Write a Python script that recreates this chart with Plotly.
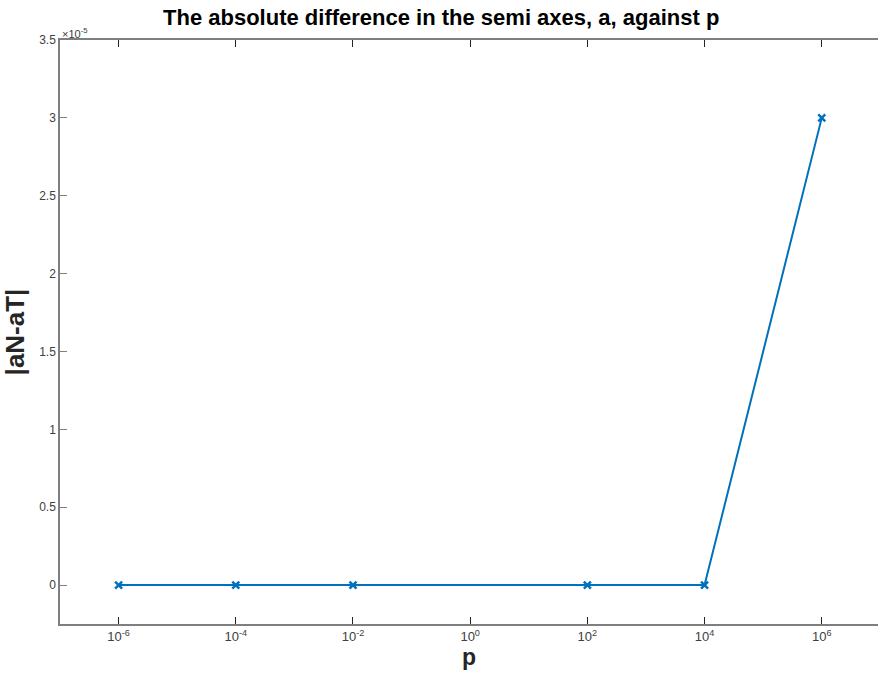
import plotly.graph_objects as go

p_values = [1e-6, 1e-4, 1e-2, 1e2, 1e4, 1e6]
abs_diff = [0, 0, 0, 0, 0, 3e-5]

x_tick_vals = [1e-6, 1e-4, 1e-2, 1e0, 1e2, 1e4, 1e6]
x_tick_text = ["10<sup>-6</sup>", "10<sup>-4</sup>", "10<sup>-2</sup>", "10<sup>0</sup>",
               "10<sup>2</sup>", "10<sup>4</sup>", "10<sup>6</sup>"]
y_tick_vals = [0, 0.5e-5, 1e-5, 1.5e-5, 2e-5, 2.5e-5, 3e-5, 3.5e-5]
y_tick_text = ["0", "0.5", "1", "1.5", "2", "2.5", "3", "3.5"]

blue = "#0072BD"
axcol = "#7f7f7f"
txtcol = "#404040"

fig = go.Figure()
fig.add_trace(go.Scatter(
    x=p_values, y=abs_diff, mode="lines+markers",
    line=dict(color=blue, width=2),
    marker=dict(symbol="x-thin", size=7, line=dict(color=blue, width=2.5), color=blue),
    showlegend=False,
))

fig.update_layout(
    width=878, height=677,
    paper_bgcolor="white", plot_bgcolor="white",
    margin=dict(l=60, r=0, t=40, b=53),
    font=dict(family="Liberation Sans, Arial, sans-serif", color=txtcol, size=12),
    title=dict(text="<b>The absolute difference in the semi axes, a, against p</b>",
               x=0.5025, xanchor="center", y=0.975, yanchor="middle",
               font=dict(size=22, color="black")),
)
fig.update_xaxes(
    type="log", range=[-7, 6.96], automargin=False,
    tickvals=x_tick_vals, ticktext=x_tick_text, tickfont=dict(size=13),
    ticks="inside", ticklen=7, tickcolor="#262626", tickwidth=1,
    showline=True, linecolor=axcol, linewidth=1.5, mirror="ticks",
    showgrid=False, zeroline=False,
    title=dict(text="<b>p</b>", font=dict(size=23, color="#262626"), standoff=6),
)
fig.update_yaxes(
    range=[-0.25e-5, 3.5e-5], automargin=False,
    tickvals=y_tick_vals, ticktext=y_tick_text,
    ticks="inside", ticklen=7, tickcolor=axcol, tickwidth=1,
    showline=True, linecolor=axcol, linewidth=1.5,
    showgrid=False, zeroline=False,
    title=dict(text="<b>|aN-aT|</b>", font=dict(size=26, color="#262626"), standoff=10),
)
fig.add_annotation(
    text="\u00d710<sup>-5</sup>", xref="paper", yref="paper", x=0, y=1,
    xanchor="left", yanchor="bottom", showarrow=False,
    font=dict(size=11, color=txtcol), xshift=0, yshift=-2,
)

fig.write_html("out.html", config={"displayModeBar": False},
               post_script="document.body.style.margin='0px';document.body.style.overflow='hidden';")
